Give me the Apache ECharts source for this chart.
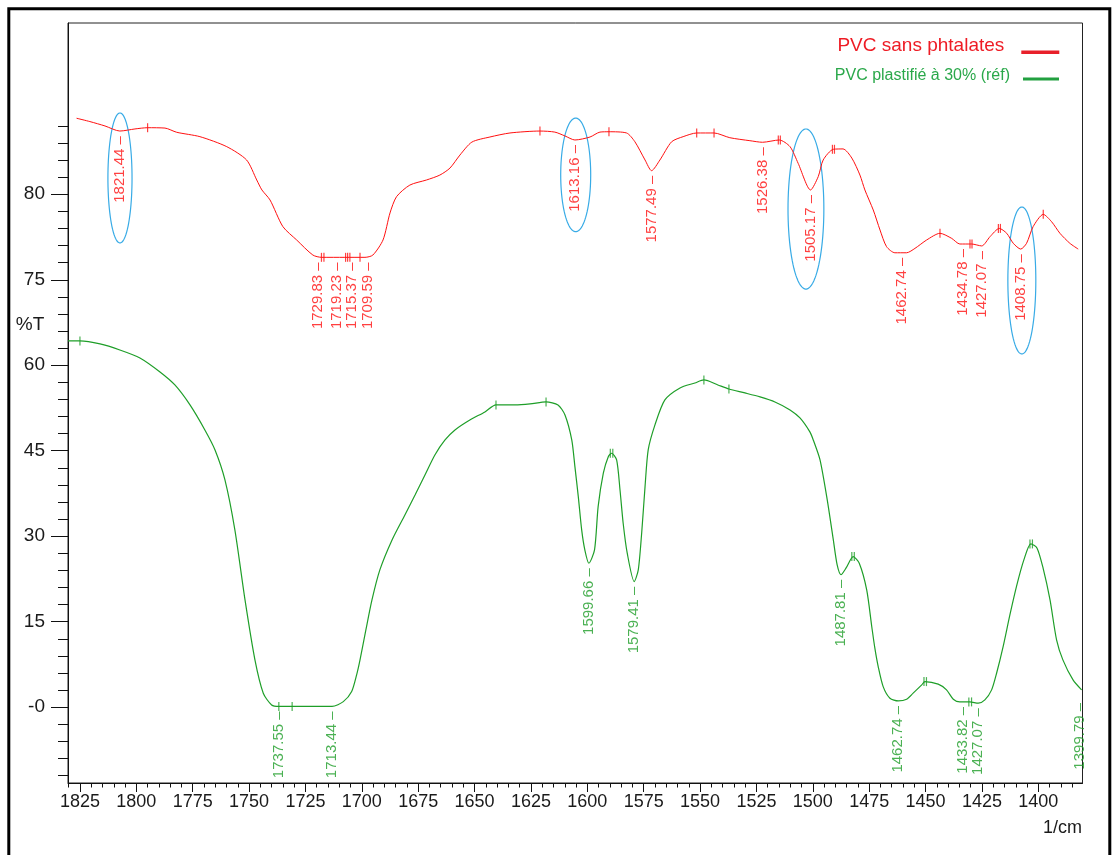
<!DOCTYPE html>
<html>
<head>
<meta charset="utf-8">
<script src="https://cdn.jsdelivr.net/npm/echarts@6/dist/echarts.min.js"></script>
<style>html,body{margin:0;padding:0;background:#fff}#c{width:1116px;height:855px}</style>
</head>
<body>
<div id="c"></div>
<script>
// ---- data (wavenumber 1/cm, %T) ----
const redName = 'PVC sans phtalates';
const greenName = 'PVC plastifié à 30% (réf)';

const redX = [1826.5,1820.6,1813.9,1807.3,1800.6,1795.0,1787.3,1782.1,1771.8,1759.9,1751.1,1746.6,1744.3,1740.7,1735.0,1728.9,1721.7,1717.8,1707.5,1698.6,1695.1,1690.6,1687.5,1684.6,1678.7,1671.3,1665.4,1660.9,1656.5,1651.2,1643.2,1634.3,1621.0,1614.4,1609.9,1605.5,1598.8,1594.4,1590.4,1582.6,1578.9,1574.4,1571.5,1567.8,1562.6,1557.5,1551.5,1543.8,1536.8,1527.9,1522.3,1514.9,1510.1,1506.5,1501.0,1497.6,1495.4,1490.9,1486.6,1482.7,1479.1,1476.9,1473.2,1470.2,1467.3,1463.6,1458.4,1454.7,1449.5,1443.6,1438.4,1434.8,1429.6,1425.1,1421.4,1417.3,1414.0,1411.1,1407.8,1405.2,1402.3,1397.8,1394.1,1390.4,1386.0,1382.3];
const redT = [84.32,84.13,83.88,83.59,83.71,83.78,83.76,83.52,83.27,82.70,81.94,80.80,80.23,79.66,78.14,77.38,76.52,76.39,76.39,76.39,76.52,77.38,78.92,79.85,80.51,80.80,81.08,81.48,82.22,82.96,83.25,83.48,83.59,83.53,83.31,83.08,83.25,83.53,83.55,83.48,82.98,81.94,81.33,81.94,82.98,83.27,83.48,83.48,83.21,83.04,82.95,83.08,82.70,81.75,80.23,80.99,81.94,82.55,82.57,82.05,81.08,80.23,79.09,77.95,77.00,76.65,76.65,76.90,77.38,77.76,77.47,77.15,77.15,77.04,77.57,78.04,77.76,77.19,76.86,77.19,78.14,78.84,78.42,77.76,77.19,76.86];

const greenX = [1830.3,1825.0,1816.1,1807.3,1798.4,1789.5,1782.9,1776.2,1769.6,1765.1,1760.7,1756.3,1751.8,1747.4,1743.7,1740.0,1736.8,1730.9,1713.2,1708.2,1704.5,1702.3,1700.8,1698.2,1695.5,1692.0,1686.6,1680.9,1676.4,1672.0,1667.6,1663.1,1658.7,1652.1,1645.4,1640.5,1632.1,1625.4,1618.3,1613.0,1609.9,1606.9,1605.5,1604.0,1602.5,1601.1,1599.3,1596.8,1595.2,1592.9,1590.7,1589.2,1587.0,1585.5,1584.1,1582.3,1579.2,1577.4,1575.9,1574.4,1573.0,1570.0,1565.6,1558.9,1552.3,1548.3,1542.1,1537.2,1530.1,1523.4,1516.8,1510.1,1505.7,1501.3,1499.8,1496.8,1493.6,1490.9,1489.2,1487.5,1485.3,1482.1,1479.4,1476.1,1473.8,1472.5,1471.0,1468.8,1465.8,1462.1,1458.4,1455.5,1451.7,1450.3,1444.4,1440.7,1437.7,1434.8,1430.3,1426.6,1423.7,1420.7,1418.5,1415.6,1412.6,1409.5,1406.4,1403.3,1400.6,1397.9,1394.8,1391.9,1389.1,1384.6,1380.8];
const greenT = [64.26,64.26,63.74,62.68,61.28,58.82,56.54,53.04,48.65,45.14,39.88,31.11,18.82,8.30,2.46,0.40,0.14,0.14,0.14,0.98,2.74,5.67,8.30,13.56,18.82,24.09,29.35,33.74,37.25,40.75,44.26,46.89,48.65,50.40,51.81,53.04,53.04,53.21,53.56,53.04,51.28,46.89,42.21,36.95,31.11,27.60,25.26,27.60,35.19,41.05,43.96,44.56,43.39,38.12,32.28,27.02,22.04,24.09,30.53,38.70,45.14,49.53,53.91,56.02,56.89,57.42,56.54,55.84,55.14,54.44,53.56,52.16,50.75,48.30,46.89,43.39,36.37,29.35,24.96,23.25,24.39,26.42,25.26,20.58,13.98,10.40,7.12,3.61,1.58,1.11,1.40,2.46,3.91,4.49,4.04,3.04,1.40,0.93,0.93,0.70,1.28,3.04,5.96,10.63,16.19,21.46,25.84,28.65,27.95,24.44,18.82,11.81,8.30,4.79,3.04];

// peak tick marks on the curves
const redMarkX = [1795.0,1621.0,1590.4,1551.5,1543.8,1515.3,1514.4,1491.3,1490.4,1443.6,1430.3,1429.4,1417.7,1416.8,1397.8,1717.9,1716.8,1707.2,1706.3,1705.3,1700.8];
const redMarkT = [83.78,83.59,83.55,83.48,83.48,83.08,83.08,82.55,82.55,77.76,77.15,77.15,78.04,78.04,78.84,76.39,76.39,76.39,76.39,76.39,76.39];
const greenMarkX = [1825.0,1736.8,1730.9,1640.5,1618.3,1589.8,1588.7,1548.3,1537.2,1482.7,1481.6,1450.7,1449.6,1430.8,1429.6,1403.7,1402.6];
const greenMarkT = [64.26,0.14,0.14,53.04,53.56,44.56,44.56,57.42,55.84,26.42,26.42,4.49,4.49,0.93,0.93,28.65,28.65];

// peak annotations
const redLabelText = ['1821.44','1729.83','1719.23','1715.37','1709.59','1613.16','1577.49','1526.38','1505.17','1462.74','1434.78','1427.07','1408.75'];
const redLabelX = [1807.3,1719.3,1711.0,1704.5,1697.2,1605.5,1571.5,1522.3,1501.0,1460.6,1433.3,1425.1,1407.8];
const redLabelT = [83.59,76.39,76.39,76.39,76.39,83.08,81.33,82.95,80.23,76.65,77.15,77.04,76.86];
const greenLabelText = ['1737.55','1713.44','1599.66','1579.41','1487.81','1462.74','1433.82','1427.07','1399.79'];
const greenLabelX = [1736.8,1713.2,1599.3,1579.2,1487.5,1462.1,1433.6,1426.6,1381.5];
const greenLabelT = [0.14,0.14,25.26,22.04,23.25,1.11,0.93,0.70,1.63];

// circled peaks: [x left, x right, %T top, %T bottom] on the red scale
const circleXL = [1812.6,1611.8,1511.0,1413.5];
const circleXR = [1801.9,1598.5,1495.1,1401.1];
const circleTT = [84.62,84.33,83.71,79.26];
const circleTB = [77.21,77.85,74.58,70.88];

// axes
const xMajor = [1825,1800,1775,1750,1725,1700,1675,1650,1625,1600,1575,1550,1525,1500,1475,1450,1425,1400];
const yMajor = [0,15,30,45,60,75,90];
const yMajorText = ['-0','15','30','45','60','75','80'];

// ---- build ----
const FONT = 'Liberation Sans, Arial, sans-serif';
const RED = '#ff1010', GREEN = '#1e9e28';
const xMin = 1380.4, xMax = 1830.3;
const gMin = -13.3, gMax = 120.05;
const rMin = 46.42, rMax = 89.75;

const xMinor = [];
for (let v = 1385; v <= 1830; v += 5) if (v % 25 !== 0) xMinor.push(v);
const yMinor = [];
for (let v = -12; v <= 102; v += 3) if (!(v % 15 === 0 && v >= 0 && v <= 90)) yMinor.push(v);

const zip = (a, b) => a.map((v, i) => [v, b[i]]);

const labelCfg = (color) => ({
  show: true, position: 'bottom', distance: 5, rotate: 90,
  align: 'right', verticalAlign: 'middle',
  formatter: p => p.name + ' \u2013', fontSize: 15, fontFamily: FONT, color: color
});

const chart = echarts.init(document.getElementById('c'), null, {renderer: 'canvas'});
const axisCommon = {splitLine: {show: false}};
chart.setOption({
  animation: false,
  backgroundColor: '#ffffff',
  textStyle: {fontFamily: FONT},
  grid: {left: 68, right: 33.5, top: 23, bottom: 72, show: true, borderColor: '#222', borderWidth: 1},
  legend: [
    {data: [{name: redName, itemStyle: {color: '#e8202a'},
       textStyle: {color: '#ee1c25', fontSize: 19, fontFamily: FONT, lineHeight: 20, padding: [0, 12, 0, 0]}}],
     right: 56.7, top: 35.3, padding: 0, orient: 'vertical', align: 'right',
     icon: 'path://M0,0h38v0.01h-38zM0,14h38v3.5h-38z',
     itemWidth: 38, itemHeight: 17.5, selectedMode: false},
    {data: [{name: greenName, itemStyle: {color: '#22a040'},
       textStyle: {color: '#2aa84a', fontSize: 16, fontFamily: FONT, lineHeight: 17, padding: [0, 8, 0, 0]}}],
     right: 57, top: 67.5, padding: 0, orient: 'vertical', align: 'right',
     icon: 'path://M0,0h36v0.01h-36zM0,6h36v3h-36z',
     itemWidth: 36, itemHeight: 9, selectedMode: false}
  ],
  xAxis: [
    Object.assign({type: 'value', inverse: true, min: xMin, max: xMax, position: 'bottom',
      axisLine: {show: true, onZero: false, lineStyle: {color: '#111', width: 1}},
      axisTick: {show: true, customValues: xMajor, length: 9, lineStyle: {color: '#111'}},
      axisLabel: {show: true, customValues: xMajor, fontSize: 18, color: '#1a1a1a', margin: 10, fontFamily: FONT,
        formatter: v => String(Math.round(v))}}, axisCommon),
    Object.assign({type: 'value', inverse: true, min: xMin, max: xMax, position: 'bottom',
      axisLine: {show: false, onZero: false},
      axisTick: {show: true, customValues: xMinor, length: 4.5, lineStyle: {color: '#111'}},
      axisLabel: {show: false}}, axisCommon)
  ],
  yAxis: [
    Object.assign({type: 'value', min: gMin, max: gMax, position: 'left',
      axisLine: {show: true, onZero: false, lineStyle: {color: '#111', width: 1}},
      axisTick: {show: true, customValues: yMajor, length: 17, lineStyle: {color: '#111'}},
      axisLabel: {show: true, customValues: yMajor, fontSize: 19, color: '#1a1a1a', margin: 23, fontFamily: FONT,
        formatter: v => { const i = yMajor.indexOf(Math.round(v)); return i >= 0 ? yMajorText[i] : ''; }}}, axisCommon),
    Object.assign({type: 'value', min: gMin, max: gMax, position: 'left',
      axisLine: {show: false, onZero: false},
      axisTick: {show: true, customValues: yMinor, length: 10, lineStyle: {color: '#111'}},
      axisLabel: {show: false}}, axisCommon),
    Object.assign({type: 'value', min: rMin, max: rMax, position: 'left', show: false,
      axisLine: {show: false, onZero: false}}, axisCommon)
  ],
  graphic: [
    {type: 'rect', silent: true, shape: {x: 8.8, y: 8.8, width: 1101, height: 900},
     style: {fill: 'none', stroke: '#000', lineWidth: 3}},
    {type: 'text', silent: true, x: 30, y: 325,
     style: {text: '%T', align: 'center', verticalAlign: 'middle', font: '19px ' + FONT, fill: '#1a1a1a'}},
    {type: 'text', silent: true, x: 1082, y: 828,
     style: {text: '1/cm', align: 'right', verticalAlign: 'middle', font: '18px ' + FONT, fill: '#1a1a1a'}}
  ],
  series: [
    {name: redName, type: 'line', xAxisIndex: 0, yAxisIndex: 2, data: zip(redX, redT),
     showSymbol: false, smooth: 0.25, color: RED, lineStyle: {color: RED, width: 1}, silent: true},
    {name: greenName, type: 'line', xAxisIndex: 0, yAxisIndex: 0, data: zip(greenX, greenT),
     showSymbol: false, smooth: 0.25, color: GREEN, lineStyle: {color: GREEN, width: 1.2}, silent: true},
    {name: 'redMarks', type: 'scatter', xAxisIndex: 0, yAxisIndex: 2, data: zip(redMarkX, redMarkT),
     symbol: 'rect', symbolSize: [1.2, 9], itemStyle: {color: RED}, silent: true},
    {name: 'greenMarks', type: 'scatter', xAxisIndex: 0, yAxisIndex: 0, data: zip(greenMarkX, greenMarkT),
     symbol: 'rect', symbolSize: [1.2, 9], itemStyle: {color: GREEN}, silent: true},
    {name: 'redLabels', type: 'scatter', xAxisIndex: 0, yAxisIndex: 2, symbolSize: 0, silent: true,
     data: redLabelText.map((t, i) => ({name: t, value: [redLabelX[i], redLabelT[i]]})),
     label: labelCfg(RED)},
    {name: 'greenLabels', type: 'scatter', xAxisIndex: 0, yAxisIndex: 0, symbolSize: 0, silent: true,
     data: greenLabelText.map((t, i) => ({name: t, value: [greenLabelX[i], greenLabelT[i]]})),
     label: labelCfg(GREEN)},
    {name: 'circles', type: 'custom', xAxisIndex: 0, yAxisIndex: 2, silent: true,
     data: circleXL.map((v, i) => [v, circleTT[i], circleXR[i], circleTB[i]]),
     renderItem: (params, api) => {
       const p1 = api.coord([api.value(0), api.value(1)]);
       const p2 = api.coord([api.value(2), api.value(3)]);
       const cx = (p1[0] + p2[0]) / 2, cy = (p1[1] + p2[1]) / 2;
       const rx = Math.abs(p2[0] - p1[0]) / 2, ry = Math.abs(p2[1] - p1[1]) / 2;
       const pts = [];
       for (let k = 0; k <= 90; k++) { const a = k / 90 * Math.PI * 2; pts.push([cx + rx * Math.cos(a), cy + ry * Math.sin(a)]); }
       return {type: 'polygon', shape: {points: pts}, style: {fill: 'none', stroke: '#38abe6', lineWidth: 1.2}};
     }}
  ]
});
</script>
</body>
</html>
